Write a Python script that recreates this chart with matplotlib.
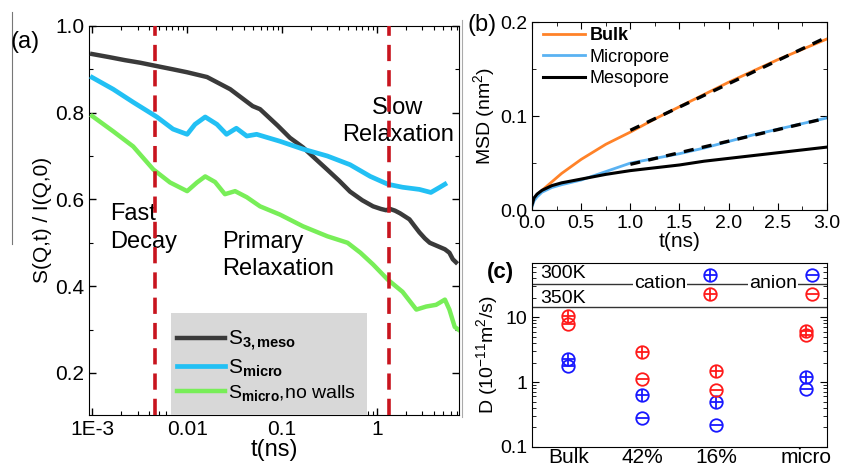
import numpy as np
import matplotlib
matplotlib.use("Agg")
import matplotlib.pyplot as plt
from matplotlib.ticker import MultipleLocator, FixedLocator, LogLocator, NullFormatter, FuncFormatter
from matplotlib.patches import Rectangle
from matplotlib.lines import Line2D

plt.rcParams['font.family'] = ['Liberation Sans', 'DejaVu Sans']
plt.rcParams['mathtext.fontset'] = 'custom'
plt.rcParams['mathtext.rm'] = 'Liberation Sans'
plt.rcParams['mathtext.bf'] = 'Liberation Sans:bold'
plt.rcParams['mathtext.it'] = 'Liberation Sans:italic'

# ---------------- Panel (a) data ----------------
meso_t = [0.001, 0.0015, 0.0022, 0.0032, 0.0046, 0.007, 0.01, 0.0162, 0.0284, 0.049, 0.0586,
          0.09, 0.121, 0.166, 0.234, 0.298, 0.4, 0.52, 0.7, 0.91, 1.1, 1.25, 1.37, 1.55, 1.75,
          2.2, 2.5, 2.8, 3.2, 3.6, 4.6, 5.2, 5.8, 6.3, 6.8]
meso_s = [0.935, 0.928, 0.921, 0.915, 0.908, 0.900, 0.893, 0.882, 0.854, 0.815, 0.808,
          0.770, 0.742, 0.720, 0.690, 0.669, 0.643, 0.618, 0.598, 0.584, 0.578, 0.575, 0.578, 0.574, 0.568,
          0.554, 0.538, 0.524, 0.510, 0.500, 0.490, 0.485, 0.477, 0.462, 0.455]

micro_t = [0.001, 0.00166, 0.0027, 0.0048, 0.0071, 0.01, 0.0121, 0.0155, 0.0206, 0.026, 0.033,
           0.0425, 0.054, 0.069, 0.095, 0.166, 0.3, 0.52, 0.85, 1.3, 1.86, 2.8, 3.7, 4.6, 5.2]
micro_s = [0.881, 0.854, 0.824, 0.790, 0.762, 0.750, 0.773, 0.790, 0.773, 0.750, 0.764,
           0.746, 0.750, 0.743, 0.734, 0.716, 0.700, 0.680, 0.653, 0.635, 0.628, 0.623, 0.616, 0.628, 0.635]

nowall_t = [0.001, 0.00166, 0.0027, 0.0044, 0.0066, 0.01, 0.0127, 0.0155, 0.0197, 0.025, 0.032,
            0.0425, 0.0586, 0.095, 0.166, 0.3, 0.49, 0.67, 0.91, 1.3, 1.86, 2.6, 3.3, 4.2, 5.2,
            5.8, 6.6, 7.2]
nowall_s = [0.792, 0.757, 0.722, 0.669, 0.639, 0.619, 0.639, 0.653, 0.640, 0.612, 0.619,
            0.605, 0.584, 0.565, 0.538, 0.515, 0.500, 0.477, 0.450, 0.415, 0.387, 0.346, 0.353, 0.357, 0.369,
            0.346, 0.306, 0.300]

regime_t = [0.0046, 1.34]

# ---------------- Panel (b) data ----------------
msd_t = [0, 0.02, 0.05, 0.1, 0.2, 0.3, 0.5, 0.75, 1.0, 1.25, 1.5, 1.75, 2.0, 2.25, 2.5, 2.75, 3.0]
msd_bulk = [0.005, 0.012, 0.016, 0.021, 0.030, 0.039, 0.054, 0.070, 0.083, 0.097, 0.110, 0.123,
            0.136, 0.148, 0.160, 0.171, 0.182]
msd_micro = [0.004, 0.010, 0.014, 0.019, 0.024, 0.027, 0.032, 0.041, 0.050, 0.055, 0.060, 0.066,
             0.073, 0.080, 0.086, 0.092, 0.098]
msd_meso = [0.006, 0.013, 0.017, 0.021, 0.026, 0.029, 0.033, 0.038, 0.042, 0.045, 0.048, 0.052,
            0.055, 0.058, 0.061, 0.064, 0.067]

# ---------------- Panel (c) data ----------------
systems = ['Bulk', '42%', '16%', 'micro']
D_cation_300 = [2.3, 0.64, 0.50, 1.19]
D_anion_300 = [1.74, 0.275, 0.22, 0.77]
D_cation_350 = [10.3, 2.95, 1.47, 6.1]
D_anion_350 = [7.8, 1.10, 0.76, 5.3]

# ---------------- Figure ----------------
fig = plt.figure(figsize=(8.42, 4.70), dpi=100)

BLACK = '#3a3a3a'
BLUE = '#22c0f4'
GREEN = '#78ee58'
RED = '#c8141e'

axa = fig.add_axes([0.106, 0.117, 0.439, 0.828])
axa.plot(meso_t, meso_s, color=BLACK, lw=3.2, label=r'S$_{\mathbf{3,meso}}$', zorder=3)
axa.plot(micro_t, micro_s, color=BLUE, lw=3.4, label=r'S$_{\mathbf{micro}}$', zorder=3)
axa.plot(nowall_t, nowall_s, color=GREEN, lw=3.2, label=r'S$_{\mathbf{micro}}$,no walls', zorder=3)
for tv in regime_t:
    axa.axvline(tv, color=RED, lw=2.6, ls=(0, (4.5, 2.5)), zorder=4)
axa.set_xscale('log')
axa.set_xlim(0.00093, 7.3)
axa.set_ylim(0.103, 1.0)
axa.xaxis.set_major_locator(FixedLocator([0.001, 0.01, 0.1, 1]))
axa.xaxis.set_major_formatter(FuncFormatter(lambda v, p: {0.001: '1E-3', 0.01: '0.01', 0.1: '0.1', 1: '1'}.get(round(v, 4), '')))
axa.xaxis.set_minor_locator(LogLocator(base=10, subs=np.arange(2, 10)))
axa.xaxis.set_minor_formatter(NullFormatter())
axa.yaxis.set_major_locator(MultipleLocator(0.2))
axa.yaxis.set_minor_locator(MultipleLocator(0.1))
axa.yaxis.set_major_formatter(FuncFormatter(lambda v, p: f'{v:.1f}'))
axa.tick_params(which='both', direction='in', top=True, right=True, labelsize=15)
axa.tick_params(which='major', length=5, width=1)
axa.tick_params(which='minor', length=3, width=0.8)
axa.set_xlabel('t(ns)', fontsize=17, labelpad=0)
axa.set_ylabel('S(Q,t) / I(Q,0)', fontsize=15, labelpad=2)
axa.text(0.00155, 0.535, 'Fast\nDecay', fontsize=17, ha='left', va='center', linespacing=1.35)
axa.text(0.0233, 0.47, 'Primary\nRelaxation', fontsize=17, ha='left', va='center', linespacing=1.3)
axa.text(1.66, 0.78, 'Slow\nRelaxation', fontsize=17, ha='center', va='center', linespacing=1.3)
axa.add_patch(Rectangle((0.222, 0.0), 0.529, 0.262, transform=axa.transAxes,
                        facecolor='#d8d8d8', edgecolor='none', zorder=5))
lega = axa.legend(loc='lower left', bbox_to_anchor=(0.225, 0.02), frameon=False, fontsize=15,
                  handlelength=2.3, handletextpad=0.15, labelspacing=0.2, borderpad=0.2,
                  borderaxespad=0)
lega.get_texts()[2].set_fontsize(14)
lega.set_zorder(6)
fig.text(0.012, 0.91, '(a)', fontsize=17, ha='left', va='center')

# Panel (b)
axb = fig.add_axes([0.632, 0.553, 0.350, 0.400])
axb.plot(msd_t, msd_bulk, color='#ff8228', lw=2, label='Bulk')
axb.plot(msd_t, msd_micro, color='#5ab2f2', lw=2, label='Micropore')
axb.plot(msd_t, msd_meso, color='black', lw=2.2, label='Mesopore')
tb = np.array(msd_t)
mask = tb >= 1.0
for ser in (msd_bulk, msd_micro):
    p = np.polyfit(tb[mask], np.array(ser)[mask], 1)
    axb.plot(tb[mask], np.polyval(p, tb[mask]), color='black', lw=2.4, ls=(0, (3, 2.5)), zorder=4)
axb.set_xlim(0, 3.0)
axb.set_ylim(0, 0.2)
axb.xaxis.set_major_locator(MultipleLocator(0.5))
axb.xaxis.set_minor_locator(MultipleLocator(0.25))
axb.yaxis.set_major_locator(MultipleLocator(0.1))
axb.yaxis.set_minor_locator(MultipleLocator(0.05))
axb.xaxis.set_major_formatter(FuncFormatter(lambda v, p: f'{v:.1f}'))
axb.yaxis.set_major_formatter(FuncFormatter(lambda v, p: f'{v:.1f}'))
axb.tick_params(which='both', direction='in', top=True, right=True, labelsize=14)
axb.tick_params(which='major', length=5)
axb.tick_params(which='minor', length=3)
axb.set_xlabel('t(ns)', fontsize=15, labelpad=0)
axb.set_ylabel(r'MSD (nm$^2$)', fontsize=14, labelpad=2)
legb = axb.legend(loc='upper left', bbox_to_anchor=(0.0, 1.03), frameon=False, fontsize=13,
                  handlelength=2.3, handletextpad=0.3, labelspacing=0.25, borderaxespad=0.2)
legb.get_texts()[0].set_fontweight('bold')
fig.text(0.555, 0.946, '(b)', fontsize=17, ha='left', va='center')

# Panel (c)
axc = fig.add_axes([0.632, 0.049, 0.350, 0.391])
xc = np.arange(len(systems)) + np.array([0, 0, 0, 0.22])
CB = '#1818ff'
CR = '#ff1a1a'

def oplus(ax, x, y, color, minus=False, **kw):
    ax.plot(x, y, ls='none', marker='o', mfc='none', mec=color, ms=9, mew=1.3, **kw)
    ax.plot(x, y, ls='none', marker='_' if minus else '+', mec=color, ms=9, mew=1.3, **kw)

oplus(axc, xc, D_cation_300, CB)
oplus(axc, xc, D_anion_300, CB, minus=True)
oplus(axc, xc, D_cation_350, CR)
oplus(axc, xc, D_anion_350, CR, minus=True)
axc.set_yscale('log')
axc.set_xlim(-0.49, 3.5)
axc.set_ylim(0.1, 68)
axc.set_xticks(xc)
axc.set_xticklabels(systems, fontsize=15)
axc.tick_params(axis='x', length=0, pad=1)
axc.yaxis.set_major_locator(FixedLocator([0.1, 1, 10]))
axc.yaxis.set_major_formatter(FuncFormatter(lambda v, p: {0.1: '0.1', 1.0: '1', 10.0: '10'}.get(round(v, 3), '')))
axc.yaxis.set_minor_locator(LogLocator(base=10, subs=np.arange(2, 10)))
axc.yaxis.set_minor_formatter(NullFormatter())
axc.tick_params(axis='y', which='both', direction='in', right=True, labelsize=14)
axc.tick_params(axis='y', which='major', length=5)
axc.tick_params(axis='y', which='minor', length=3)
axc.set_ylabel(r'D (10$^{-11}$m$^2$/s)', fontsize=14, labelpad=0)
axc.axhline(33, color='#333333', lw=1.0)
axc.axhline(14.2, color='#333333', lw=1.0)
axc.text(0.027, 0.946, '300K', transform=axc.transAxes, fontsize=14, ha='left', va='center')
axc.text(0.027, 0.81, '350K', transform=axc.transAxes, fontsize=14, ha='left', va='center')
axc.text(0.434, 0.89, 'cation', transform=axc.transAxes, fontsize=14, ha='center', va='center',
         bbox=dict(facecolor='white', edgecolor='none', pad=0.5))
axc.text(0.817, 0.89, 'anion', transform=axc.transAxes, fontsize=14, ha='center', va='center',
         bbox=dict(facecolor='white', edgecolor='none', pad=0.5))
oplus(axc, [0.603], [0.935], CB, transform=axc.transAxes)
oplus(axc, [0.603], [0.832], CR, transform=axc.transAxes)
oplus(axc, [0.949], [0.935], CB, minus=True, transform=axc.transAxes)
oplus(axc, [0.949], [0.832], CR, minus=True, transform=axc.transAxes)
fig.text(0.578, 0.42, '(c)', fontsize=16, fontweight='bold', ha='left', va='center')

# thin separator lines present in the reference composite
fig.add_artist(Line2D([0.0143, 0.0143], [0.975, 0.48], color='#777777', lw=0.8))
fig.add_artist(Line2D([0.549, 0.549], [0.957, 0.113], color='#aaaaaa', lw=0.8))

fig.savefig('out.png', dpi=100)
